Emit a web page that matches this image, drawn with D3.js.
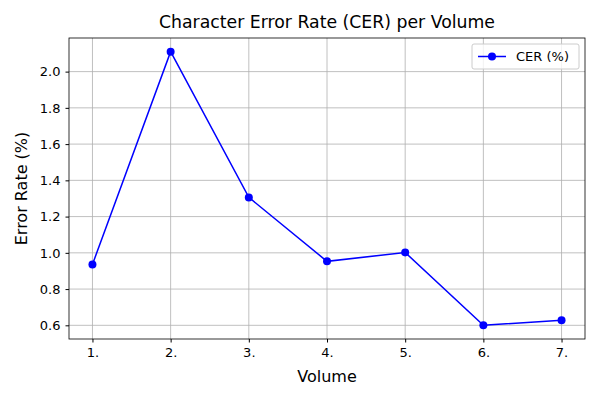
<!DOCTYPE html>
<html>
<head>
<meta charset="UTF-8">
<script src="https://d3js.org/d3.v7.min.js"></script>
<style>body{margin:0;background:#fff;font-family:"DejaVu Sans",sans-serif;}</style>
</head>
<body>
<div id="chart"></div>
<script>
const volumes = [1, 2, 3, 4, 5, 6, 7];
const volumeLabels = ["1.", "2.", "3.", "4.", "5.", "6.", "7."];
const cer = [0.936, 2.11, 1.306, 0.953, 1.002, 0.60, 0.628];
const yTicks = [0.6, 0.8, 1.0, 1.2, 1.4, 1.6, 1.8, 2.0];

const width = 600, height = 400;
const margin = {top: 38, right: 15, bottom: 61, left: 69};

const svg = d3.select("#chart").append("svg")
  .attr("width", width).attr("height", height);

const x = d3.scaleLinear().domain([0.7, 7.3]).range([margin.left, width - margin.right]);
const y = d3.scaleLinear().domain([0.5245, 2.1855]).range([height - margin.bottom, margin.top]);

// grid
svg.append("g").selectAll("line").data(volumes).join("line")
  .attr("x1", d => x(d)).attr("x2", d => x(d))
  .attr("y1", margin.top).attr("y2", height - margin.bottom)
  .attr("stroke", "#b0b0b0").attr("stroke-width", 0.8);
svg.append("g").selectAll("line").data(yTicks).join("line")
  .attr("x1", margin.left).attr("x2", width - margin.right)
  .attr("y1", d => y(d)).attr("y2", d => y(d))
  .attr("stroke", "#b0b0b0").attr("stroke-width", 0.8);

// axes
const xAxis = svg.append("g")
  .attr("transform", `translate(0,${height - margin.bottom})`)
  .call(d3.axisBottom(x).tickValues(volumes).tickFormat((d, i) => volumeLabels[i]).tickSize(3.5).tickPadding(5));
const yAxis = svg.append("g")
  .attr("transform", `translate(${margin.left},0)`)
  .call(d3.axisLeft(y).tickValues(yTicks).tickFormat(d3.format(".1f")).tickSize(3.5).tickPadding(5));
[xAxis, yAxis].forEach(g => {
  g.select(".domain").remove();
  g.selectAll("text").attr("font-size", 13).attr("font-family", "DejaVu Sans").attr("fill", "#000");
  g.selectAll("line").attr("stroke", "#000");
});

svg.append("rect")
  .attr("x", margin.left).attr("y", margin.top)
  .attr("width", width - margin.left - margin.right)
  .attr("height", height - margin.top - margin.bottom)
  .attr("fill", "none").attr("stroke", "#000").attr("stroke-width", 0.8);

// line
svg.append("path").datum(cer)
  .attr("d", d3.line().x((d, i) => x(volumes[i])).y(d => y(d)))
  .attr("fill", "none").attr("stroke", "blue").attr("stroke-width", 1.5);
svg.append("g").selectAll("circle").data(cer).join("circle")
  .attr("cx", (d, i) => x(volumes[i])).attr("cy", d => y(d))
  .attr("r", 4).attr("fill", "blue");

// titles
svg.append("text").attr("x", (margin.left + width - margin.right) / 2).attr("y", 28)
  .attr("text-anchor", "middle").attr("font-size", 17.3).text("Character Error Rate (CER) per Volume");
svg.append("text").attr("x", (margin.left + width - margin.right) / 2).attr("y", 382)
  .attr("text-anchor", "middle").attr("font-size", 16).text("Volume");
svg.append("text").attr("transform", `translate(27,${(margin.top + height - margin.bottom) / 2}) rotate(-90)`)
  .attr("text-anchor", "middle").attr("font-size", 16).text("Error Rate (%)");

// legend
const lg = svg.append("g").attr("transform", "translate(472,44)");
lg.append("rect").attr("width", 107).attr("height", 25).attr("rx", 2)
  .attr("fill", "#fff").attr("fill-opacity", 0.8).attr("stroke", "#ccc");
lg.append("line").attr("x1", 6).attr("x2", 34).attr("y1", 12.5).attr("y2", 12.5)
  .attr("stroke", "blue").attr("stroke-width", 1.5);
lg.append("circle").attr("cx", 20).attr("cy", 12.5).attr("r", 4).attr("fill", "blue");
lg.append("text").attr("x", 44).attr("y", 17).attr("font-size", 13).text("CER (%)");
</script>
</body>
</html>
